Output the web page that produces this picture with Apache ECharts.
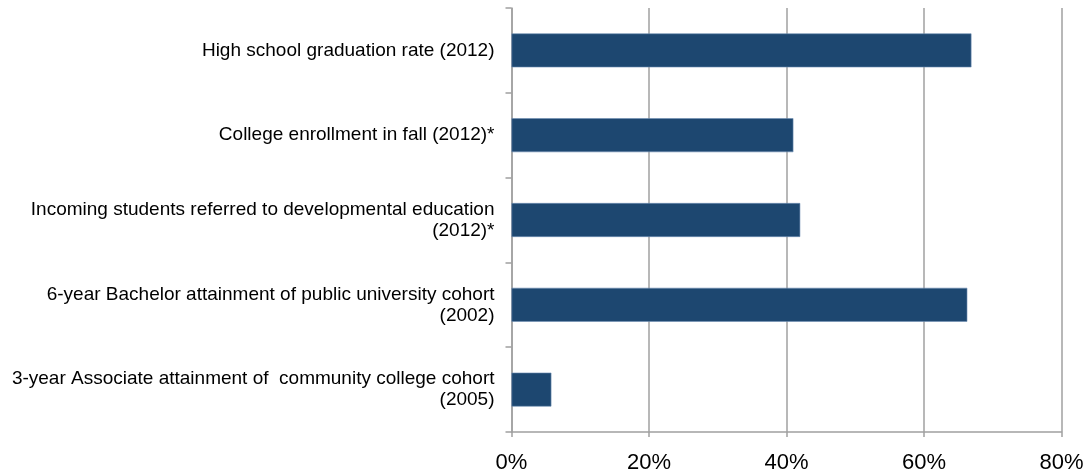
<!DOCTYPE html>
<html>
<head>
<meta charset="utf-8">
<script src="https://cdn.jsdelivr.net/npm/echarts@6/dist/echarts.min.js"></script>
<style>html,body{margin:0;padding:0;background:#fff}#c{width:1091px;height:476px}</style>
</head>
<body>
<div id="c"></div>
<script>
var categories = [
  "High school graduation rate (2012)",
  "College enrollment in fall (2012)*",
  "Incoming students referred to developmental education\n(2012)*",
  "6-year Bachelor attainment of public university cohort\n(2002)",
  "3-year Associate attainment of  community college cohort\n(2005)"
];
var values = [66.9, 41.0, 42.0, 66.3, 5.8];
var xTicks = [0, 20, 40, 60, 80];

var chart = echarts.init(document.getElementById('c'), null, {renderer: 'canvas'});
chart.setOption({
  animation: false,
  grid: {left: 511.5, right: 29.5, top: 8, bottom: 44, containLabel: false},
  xAxis: {
    type: 'value', min: xTicks[0], max: xTicks[xTicks.length - 1], interval: 20,
    axisLine: {show: true, lineStyle: {color: '#a0a0a0', width: 1.5}},
    axisTick: {show: true, length: 5, lineStyle: {color: '#a0a0a0', width: 1.5}},
    splitLine: {show: true, lineStyle: {color: '#a0a0a0', width: 1.5}},
    axisLabel: {formatter: '{value}%', fontFamily: 'Liberation Sans, Arial', fontSize: 22, color: '#000', margin: 20}
  },
  yAxis: {
    type: 'category', data: categories, inverse: true,
    axisLine: {show: true, lineStyle: {color: '#a0a0a0', width: 1.5}},
    axisTick: {show: true, length: 6, lineStyle: {color: '#a0a0a0', width: 1.5}},
    axisLabel: {fontFamily: 'Liberation Sans, Arial', fontSize: 19, color: '#000', margin: 17, lineHeight: 21, align: 'right'}
  },
  series: [{
    type: 'bar', data: values, barCategoryGap: '60%',
    itemStyle: {color: '#1d4770', borderColor: '#6f8fb3', borderWidth: 0.6}
  }]
});
</script>
</body>
</html>
